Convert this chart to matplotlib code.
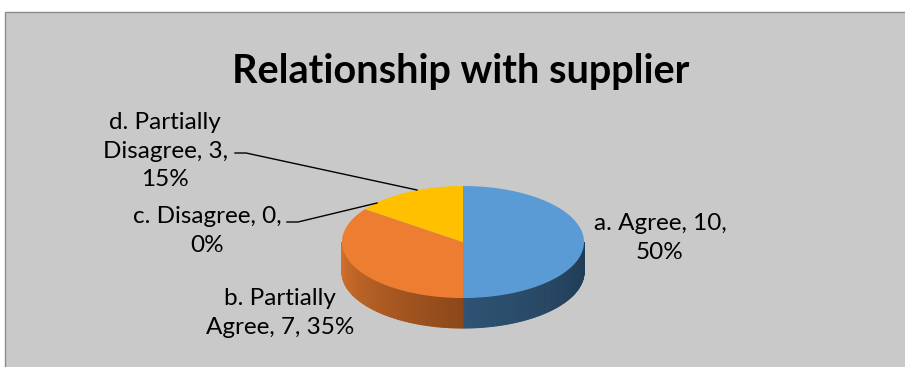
"""Excel-style 3D pie: Relationship with supplier."""
import numpy as np
import matplotlib
matplotlib.use("Agg")
import matplotlib.pyplot as plt
from matplotlib.patches import Polygon, Rectangle
from matplotlib.colors import to_rgb

plt.rcParams["font.family"] = ["Lato", "DejaVu Sans"]

title = "Relationship with supplier"
categories = ["a. Agree", "b. Partially Agree", "c. Disagree", "d. Partially Disagree"]
counts = [10, 7, 0, 3]
top_colors = ["#5B9BD5", "#ED7D31", "#A5A5A5", "#FFC000"]
# wall gradient (near centre-front, near the side)
wall_colors = [("#2F5374", "#1F3A52"), ("#8C4719", "#D2712C"), ("#777777", "#555555"), ("#B58800", "#C99700")]

W, H = 905, 367
fig = plt.figure(figsize=(W / 100, H / 100), dpi=100)
ax = fig.add_axes([0, 0, 1, 1])
ax.set_xlim(0, W)
ax.set_ylim(H, 0)
ax.axis("off")

ax.add_patch(Rectangle((5, 12), W + 20, H, facecolor="#C9C9C9", edgecolor="#8C8C8C", lw=1))

cx, cy, rx, ry, depth = 463, 242, 121, 56, 30
total = sum(counts)
fr = np.cumsum([0] + counts) / total * 360


def pt(theta):
    t = np.radians(theta)
    return cx + rx * np.sin(t), cy - ry * np.cos(t)


def mix(c1, c2, f):
    a, b = np.array(to_rgb(c1)), np.array(to_rgb(c2))
    return a + (b - a) * f


# side walls (visible between 90 and 270 deg, clockwise from 12 o'clock)
for i in range(len(counts)):
    lo, hi = max(fr[i], 90), min(fr[i + 1], 270)
    if hi <= lo:
        continue
    steps = np.linspace(lo, hi, int(hi - lo) + 2)
    for a0, a1 in zip(steps[:-1], steps[1:]):
        x0, y0 = pt(a0)
        x1, y1 = pt(a1)
        f = abs((a0 + a1) / 2 - 180) / 90
        c = mix(*wall_colors[i], f)
        ax.add_patch(Polygon([(x0, y0), (x1, y1), (x1, y1 + depth), (x0, y0 + depth)],
                             closed=True, facecolor=c, edgecolor=c, lw=0.8))

# top faces
for i in range(len(counts)):
    if counts[i] == 0:
        continue
    th = np.linspace(fr[i], fr[i + 1], 120)
    xs, ys = pt(th)
    verts = [(cx, cy)] + list(zip(xs, ys))
    ax.add_patch(Polygon(verts, closed=True, facecolor=top_colors[i], edgecolor="none"))

ax.text(461, 71, title, ha="center", va="center", fontsize=28.5, fontweight="bold")

lab = dict(ha="center", va="center", fontsize=17.5, linespacing=1.45)
pct = [round(c / total * 100) for c in counts]
ax.text(660, 238, f"{categories[0]}, {counts[0]},\n{pct[0]}%", **lab)
ax.text(280, 313, f"b. Partially\nAgree, {counts[1]}, {pct[1]}%", **lab)
ax.text(207, 231, f"{categories[2]}, {counts[2]},\n{pct[2]}%", **lab)
ax.text(165, 151, f"d. Partially\nDisagree, {counts[3]},\n{pct[3]}%", **lab)

# leader lines
ax.plot([287, 298, 377], [222, 222, 203], color="black", lw=1)
ax.plot([235, 246, 417], [153, 153, 190], color="black", lw=1)

fig.savefig("out.png", dpi=100, facecolor="white")
